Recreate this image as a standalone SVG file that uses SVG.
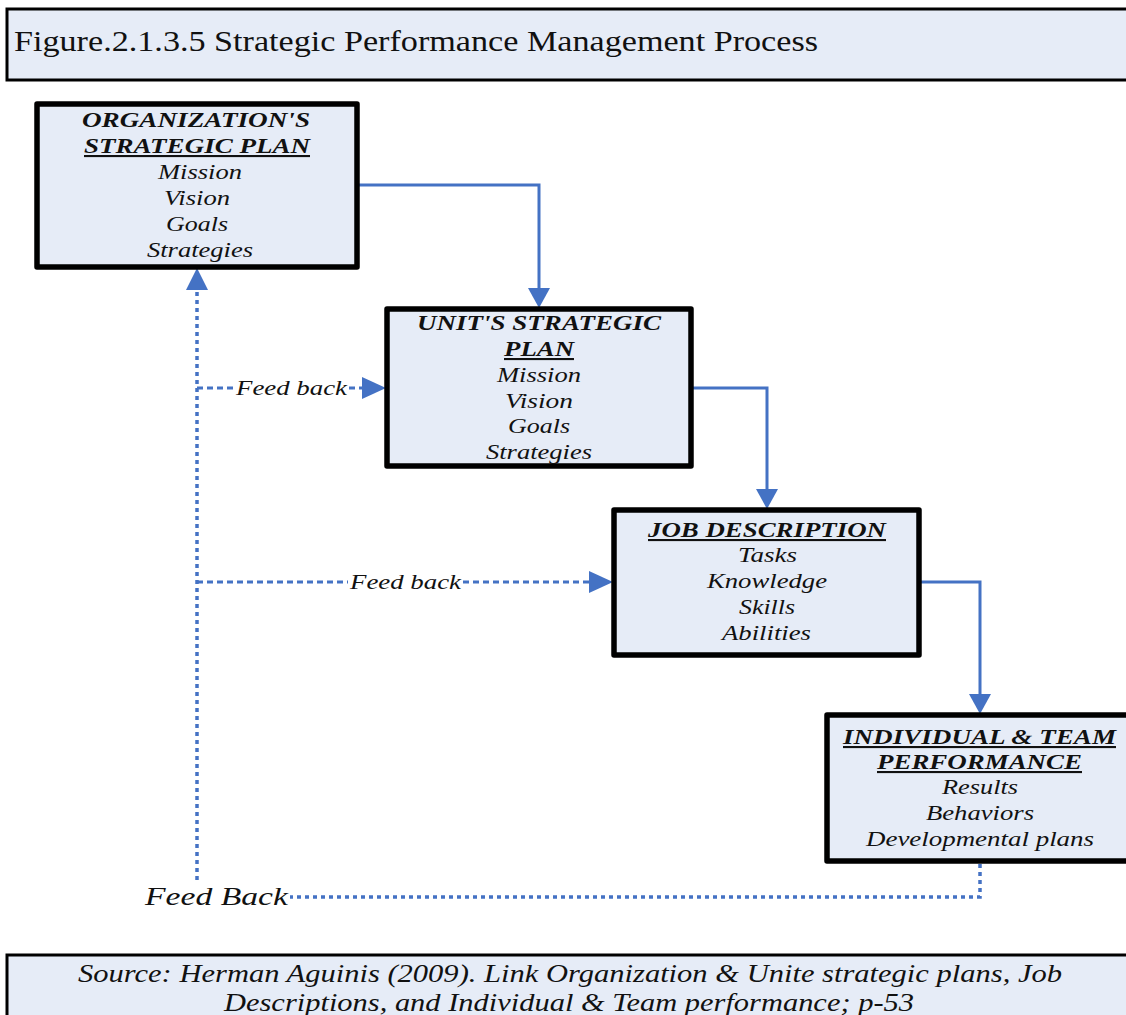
<svg xmlns="http://www.w3.org/2000/svg" width="1126" height="1015" viewBox="0 0 1126 1015">
<defs>
<style>
.frame{fill:#e6ecf7;stroke:#000;stroke-width:3}
.box{fill:#e6ecf7;stroke:#000;stroke-width:5.5;stroke-linejoin:round}
.t{font-family:'Liberation Serif','Times New Roman',Tinos,'Nimbus Roman',Times,serif;font-style:italic;font-size:21px;fill:#111;text-anchor:middle}
.h{font-weight:bold}
.u{text-decoration:underline}
.flow{fill:none;stroke:#4472c4;stroke-width:3}
.fb{fill:none;stroke:#4472c4;stroke-width:3;stroke-dasharray:6 4}
.fbd{fill:none;stroke:#4472c4;stroke-width:3.5;stroke-dasharray:4 4}
.head{fill:#4472c4}
.title{font-family:'Liberation Serif','Times New Roman',Tinos,'Nimbus Roman',Times,serif;font-size:29px;fill:#111}
.lab{font-family:'Liberation Serif','Times New Roman',Tinos,'Nimbus Roman',Times,serif;font-style:italic;font-size:20px;fill:#111;text-anchor:middle}
</style>
</defs>

<g id="title">
<rect class="frame" x="7" y="9" width="1130" height="71"/>
<text class="title" x="14" y="51" textLength="804" lengthAdjust="spacingAndGlyphs">Figure.2.1.3.5  Strategic Performance Management Process</text>
</g>

<g id="connectors">
<path class="flow" d="M358,185 H539 V292"/>
<polygon class="head" points="528,288 550,288 539,308"/>
<path class="flow" d="M692,388 H767 V493"/>
<polygon class="head" points="756,489 778,489 767,509"/>
<path class="flow" d="M920,582 H980 V698"/>
<polygon class="head" points="969,694 991,694 980,714"/>
<path class="fbd" d="M980,864 V897 H290"/>
<path class="fbd" d="M197,880 V286"/>
<polygon class="head" points="186,290 208,290 197,268"/>
<path class="fb" d="M197,388 H235"/>
<path class="fb" d="M349,388 H366"/>
<polygon class="head" points="362,377 386,388 362,399"/>
<path class="fb" d="M197,582 H348"/>
<path class="fb" d="M463,582 H592"/>
<polygon class="head" points="589,571 613,582 589,593"/>
<text class="lab" x="291.5" y="395" textLength="111" lengthAdjust="spacingAndGlyphs">Feed back</text>
<text class="lab" x="405.5" y="589" textLength="111" lengthAdjust="spacingAndGlyphs">Feed back</text>
<text class="lab" x="216.5" y="905" style="font-size:26px" textLength="143" lengthAdjust="spacingAndGlyphs">Feed Back</text>
</g>

<g id="org-plan">
<rect class="box" x="37" y="104" width="320" height="163"/>
<text class="t h" x="196" y="127" textLength="228" lengthAdjust="spacingAndGlyphs">ORGANIZATION'S</text>
<text class="t h u" x="197" y="153" textLength="226" lengthAdjust="spacingAndGlyphs">STRATEGIC PLAN</text>
<text class="t" x="200" y="179" textLength="84" lengthAdjust="spacingAndGlyphs">Mission</text>
<text class="t" x="197" y="205" textLength="66" lengthAdjust="spacingAndGlyphs">Vision</text>
<text class="t" x="197" y="231" textLength="62" lengthAdjust="spacingAndGlyphs">Goals</text>
<text class="t" x="200" y="257" textLength="106" lengthAdjust="spacingAndGlyphs">Strategies</text>
</g>

<g id="unit-plan">
<rect class="box" x="387" y="309" width="304" height="157"/>
<text class="t h" x="539" y="330" textLength="244" lengthAdjust="spacingAndGlyphs">UNIT'S STRATEGIC</text>
<text class="t h u" x="539" y="356" textLength="70" lengthAdjust="spacingAndGlyphs">PLAN</text>
<text class="t" x="539" y="382" textLength="84" lengthAdjust="spacingAndGlyphs">Mission</text>
<text class="t" x="539" y="408" textLength="68" lengthAdjust="spacingAndGlyphs">Vision</text>
<text class="t" x="539" y="433" textLength="62" lengthAdjust="spacingAndGlyphs">Goals</text>
<text class="t" x="539" y="459" textLength="106" lengthAdjust="spacingAndGlyphs">Strategies</text>
</g>

<g id="job-description">
<rect class="box" x="614" y="510" width="305" height="145"/>
<text class="t h u" x="767" y="537" textLength="238" lengthAdjust="spacingAndGlyphs">JOB DESCRIPTION</text>
<text class="t" x="767.5" y="562" textLength="59" lengthAdjust="spacingAndGlyphs">Tasks</text>
<text class="t" x="767" y="588" textLength="120" lengthAdjust="spacingAndGlyphs">Knowledge</text>
<text class="t" x="767" y="614" textLength="56" lengthAdjust="spacingAndGlyphs">Skills</text>
<text class="t" x="766.5" y="640" textLength="89" lengthAdjust="spacingAndGlyphs">Abilities</text>
</g>

<g id="performance">
<rect class="box" x="827" y="715" width="310" height="146"/>
<text class="t h u" x="979.5" y="744" textLength="273" lengthAdjust="spacingAndGlyphs">INDIVIDUAL &amp; TEAM</text>
<text class="t h u" x="979.5" y="769" textLength="205" lengthAdjust="spacingAndGlyphs">PERFORMANCE</text>
<text class="t" x="980" y="794" textLength="76" lengthAdjust="spacingAndGlyphs">Results</text>
<text class="t" x="980" y="820" textLength="108" lengthAdjust="spacingAndGlyphs">Behaviors</text>
<text class="t" x="980" y="846" textLength="228" lengthAdjust="spacingAndGlyphs">Developmental plans</text>
</g>

<g id="source">
<rect class="frame" x="7" y="955" width="1130" height="70"/>
<text class="t" x="570" y="982" style="font-size:25px" textLength="984" lengthAdjust="spacingAndGlyphs">Source: Herman Aguinis (2009). Link Organization &amp; Unite strategic plans, Job</text>
<text class="t" x="569" y="1011" style="font-size:25px" textLength="690" lengthAdjust="spacingAndGlyphs">Descriptions, and Individual &amp; Team performance; p-53</text>
</g>
</svg>
